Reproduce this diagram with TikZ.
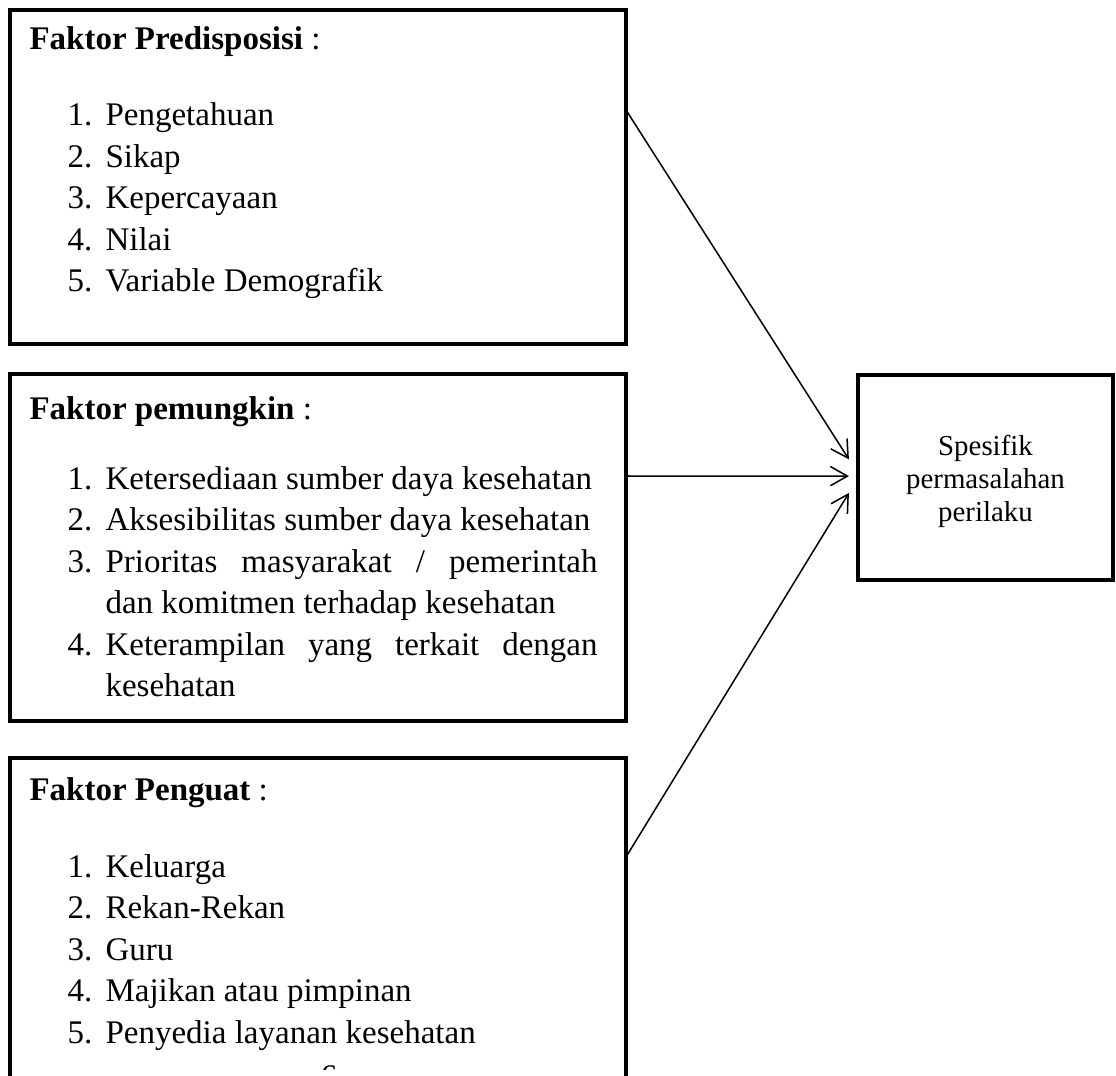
\documentclass[tikz,border=0pt]{standalone}
\usepackage{fontspec}
\setmainfont{Liberation Serif}
\usetikzlibrary{arrows.meta}
\newdimen\px \px=0.3636pt
\tikzset{
  kotak/.style={draw,line width=1.8pt,inner sep=0pt,outer sep=0pt,anchor=north west},
  teks/.style={anchor=base west,inner sep=0pt,font=\fontsize{12}{15}\selectfont},
  panah/.style={line width=0.55pt,-{Straight Barb[length=6.2pt,width=7pt]}}
}
\begin{document}
\begin{tikzpicture}[x=0.3636pt,y=-0.3636pt]
\useasboundingbox (0,0) rectangle (1116,1075);
\clip (0,0) rectangle (1116,1075);
% kotak faktor
\node[kotak,minimum width=616*\px,minimum height=334*\px] (predisposisi) at (10,10) {};
\node[kotak,minimum width=616*\px,minimum height=347*\px] (pemungkin) at (10,374) {};
\node[kotak,minimum width=616*\px,minimum height=342*\px] (penguat) at (10,758) {};
\node[kotak,minimum width=255*\px,minimum height=205*\px] (spesifik) at (858,375) {};
\node[align=center,inner sep=0pt,yshift=-1.5pt,font=\fontsize{10.5}{12}\selectfont]
  (spesifik-teks) at (spesifik.center) {Spesifik\\permasalahan\\perilaku};
% faktor predisposisi
\node[teks] (h1) at (29,50) {\textbf{Faktor Predisposisi} :};
\foreach \t [count=\n] in {Pengetahuan,Sikap,Kepercayaan,Nilai,Variable Demografik}{
  \node[teks] (pn\n) at (67,{126+41.5*(\n-1)}) {\n.};
  \node[teks] (pt\n) at (105,{126+41.5*(\n-1)}) {\t};
}
% faktor pemungkin
\node[teks] (h2) at (29,419) {\textbf{Faktor pemungkin} :};
\node[teks] (mn1) at (67,489) {1.};
\node[teks] (mt1) at (105,489) {Ketersediaan sumber daya kesehatan};
\node[teks] (mn2) at (67,530.5) {2.};
\node[teks] (mt2) at (105,530.5) {Aksesibilitas sumber daya kesehatan};
\node[teks] (mn3) at (67,572) {3.};
\node[teks] (mt3) at (105,572) {\makebox[492\px][s]{Prioritas masyarakat / pemerintah}};
\node[teks] (mt3b) at (105,613.5) {dan komitmen terhadap kesehatan};
\node[teks] (mn4) at (67,655) {4.};
\node[teks] (mt4) at (105,655) {\makebox[492\px][s]{Keterampilan yang terkait dengan}};
\node[teks] (mt4b) at (105,696.5) {kesehatan};
% faktor penguat
\node[teks] (h3) at (29,800) {\textbf{Faktor Penguat} :};
\foreach \t [count=\n] in {Keluarga,Rekan-Rekan,Guru,Majikan atau pimpinan,Penyedia layanan kesehatan}{
  \node[teks] (gn\n) at (67,{877+41.5*(\n-1)}) {\n.};
  \node[teks] (gt\n) at (105,{877+41.5*(\n-1)}) {\t};
}
% nomor halaman, terpotong
\begin{scope}
\clip (300,1060) rectangle (360,1069);
\node[teks] (hal) at (320,1087) {6};
\end{scope}
% panah
\coordinate (a1) at (626,110);
\coordinate (a2) at (626,476);
\coordinate (a3) at (626,857);
\draw[panah] (a1) -- ([xshift=-3.3pt,yshift=6.6pt]spesifik.west);
\draw[panah] (a2) -- ([xshift=-3.3pt,yshift=0.5pt]spesifik.west);
\draw[panah] (a3) -- ([xshift=-3.3pt,yshift=-5.6pt]spesifik.west);
\end{tikzpicture}
\end{document}
